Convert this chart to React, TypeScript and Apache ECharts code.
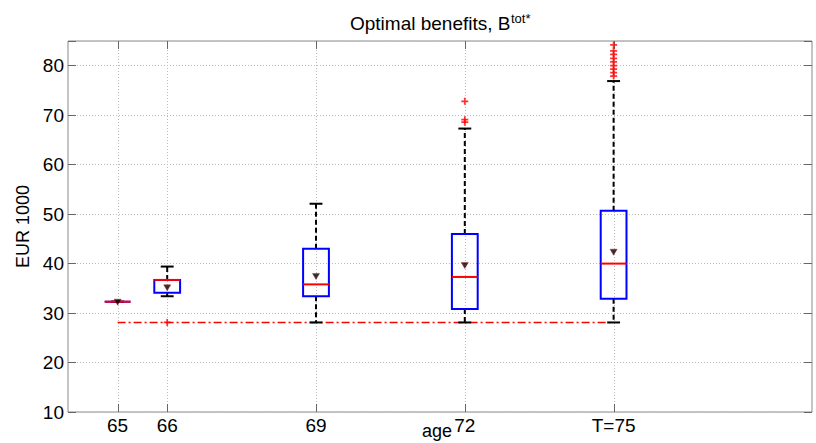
import React, { useEffect, useRef } from "react";
import * as echarts from "echarts";

// ---- data ----
const ages = [65, 66, 69, 72, 75];
const tickLabels = ["65", "66", "69", "72", "T=75"];
const whiskerLow = [32.3, 33.4, 28.1, 28.1, 28.1];
const q1 = [32.3, 34.1, 33.4, 30.8, 32.9];
const medians = [32.3, 36.7, 35.8, 37.3, 40.0];
const q3 = [32.3, 36.7, 43.0, 46.0, 50.7];
const whiskerHigh = [32.3, 39.4, 52.1, 67.3, 76.9];
const means = [32.2, 35.1, 37.4, 39.6, 42.3];
const outlierAges = [66, 72, 72, 72, 75, 75, 75, 75, 75, 75, 75, 75, 75];
const outlierValues = [28.1, 68.6, 69.1, 72.8, 77.9, 78.6, 79.3, 80.0, 80.8, 81.5, 82.3, 83.0, 84.2];
const floorLevel = 28.1;
const floorSpan = [65, 75];

const FONT = '"Liberation Sans", Arial, sans-serif';

export default function App() {
  const ref = useRef<HTMLDivElement>(null);
  useEffect(() => {
    if (!ref.current) return;
    const chart = echarts.init(ref.current, null, { renderer: "svg" });
    const boxData = ages.map((a, i) => [a, whiskerLow[i], q1[i], medians[i], q3[i], whiskerHigh[i]]);
    const option: any = {
      animation: false,
      backgroundColor: "#fff",
      textStyle: { fontFamily: FONT },
      grid: {
        left: 68,
        right: 4,
        top: 41,
        bottom: 31,
        containLabel: false,
        outerBoundsMode: "none",
        show: true,
        borderColor: "#888",
        borderWidth: 1,
        backgroundColor: "transparent",
      },
      graphic: [
        {
          type: "text",
          x: 510.5,
          y: 23.5,
          style: {
            text: "Optimal benefits, B",
            font: `19px ${FONT}`,
            fill: "#000",
            textAlign: "right",
            textVerticalAlign: "middle",
          },
        },
        {
          type: "text",
          x: 511,
          y: 18.5,
          style: {
            text: "tot*",
            font: `13px ${FONT}`,
            fill: "#000",
            textAlign: "left",
            textVerticalAlign: "middle",
          },
        },
        {
          type: "text",
          x: 437,
          y: 431,
          style: {
            text: "age",
            font: `18px ${FONT}`,
            fill: "#000",
            textAlign: "center",
            textVerticalAlign: "middle",
          },
        },
      ],
      xAxis: {
        type: "value",
        min: 64,
        max: 79,
        interval: 1,
        axisLine: { show: false },
        axisTick: { show: false },
        splitLine: { show: false },
        axisLabel: {
          fontSize: 19,
          color: "#000",
          fontFamily: FONT,
          margin: 4,
          formatter: (v: number) => {
            const i = ages.indexOf(Math.round(v));
            return i >= 0 ? tickLabels[i] : "";
          },
        },
      },
      yAxis: [
        {
          type: "value",
          min: 10,
          max: 85,
          interval: 10,
          name: "EUR 1000",
          nameLocation: "middle",
          nameGap: 28,
          nameTextStyle: { fontSize: 18, color: "#000", fontFamily: FONT },
          axisLine: { show: false },
          axisTick: { show: true, inside: true, length: 8, lineStyle: { color: "#666" } },
          splitLine: { show: true, lineStyle: { color: "#bbb", type: [1, 2], width: 1 } },
          axisLabel: {
            fontSize: 19,
            color: "#000",
            fontFamily: FONT,
            margin: 4,
            formatter: (v: number) => (v % 10 === 0 ? String(v) : ""),
          },
        },
        {
          type: "value",
          position: "right",
          min: 10,
          max: 85,
          interval: 10,
          axisLine: { show: false },
          axisTick: { show: true, inside: true, length: 8, lineStyle: { color: "#666" } },
          splitLine: { show: false },
          axisLabel: { show: false },
        },
      ],
      series: [
        {
          type: "custom",
          name: "xgrid",
          z: 1,
          silent: true,
          data: ages.map((a) => [a]),
          renderItem: (params: any, api: any) => {
            const x = Math.round(api.coord([api.value(0), 10])[0]) + 0.5;
            const cs = params.coordSys;
            const top = cs.y;
            const bottom = cs.y + cs.height;
            return {
              type: "group",
              children: [
                { type: "line", shape: { x1: x, y1: top, x2: x, y2: bottom }, style: { stroke: "#bbb", lineWidth: 1, lineDash: [1, 2] } },
                { type: "line", shape: { x1: x, y1: bottom, x2: x, y2: bottom - 8 }, style: { stroke: "#666", lineWidth: 1 } },
                { type: "line", shape: { x1: x, y1: top, x2: x, y2: top + 8 }, style: { stroke: "#666", lineWidth: 1 } },
              ],
            };
          },
        },
        {
          type: "line",
          name: "floor",
          z: 2,
          symbol: "none",
          data: floorSpan.map((a) => [a, floorLevel]),
          lineStyle: { color: "#ff0000", width: 1.5, type: [8, 3, 2, 3] },
        },
        {
          type: "custom",
          name: "boxes",
          z: 3,
          data: boxData,
          renderItem: (params: any, api: any) => {
            const a = api.value(0);
            const x = api.coord([a, 10])[0];
            const yLow = api.coord([a, api.value(1)])[1];
            const yQ1 = api.coord([a, api.value(2)])[1];
            const yMed = api.coord([a, api.value(3)])[1];
            const yQ3 = api.coord([a, api.value(4)])[1];
            const yHigh = api.coord([a, api.value(5)])[1];
            const unit = api.size([1, 0])[0];
            const bh = unit * 0.26;
            const ch = unit * 0.13;
            const dash = { stroke: "#000", lineWidth: 2, lineDash: [5, 3] };
            const solid = { stroke: "#000", lineWidth: 2 };
            return {
              type: "group",
              children: [
                { type: "line", shape: { x1: x, y1: yQ3, x2: x, y2: yHigh }, style: dash },
                { type: "line", shape: { x1: x, y1: yQ1, x2: x, y2: yLow }, style: dash },
                { type: "line", shape: { x1: x - ch, y1: yHigh, x2: x + ch, y2: yHigh }, style: solid },
                { type: "line", shape: { x1: x - ch, y1: yLow, x2: x + ch, y2: yLow }, style: solid },
                {
                  type: "rect",
                  shape: { x: x - bh, y: yQ3, width: 2 * bh, height: yQ1 - yQ3 },
                  style: { fill: "none", stroke: "#0000ff", lineWidth: 2 },
                },
                { type: "line", shape: { x1: x - bh, y1: yMed, x2: x + bh, y2: yMed }, style: { stroke: "#ff0000", lineWidth: 2 } },
              ],
            };
          },
        },
        {
          type: "scatter",
          name: "outliers",
          z: 4,
          symbol: "path://M3,0H5V3H8V5H5V8H3V5H0V3H3Z",
          symbolSize: 7,
          itemStyle: { color: "#ff0000" },
          data: outlierAges.map((a, i) => [a, outlierValues[i]]),
        },
        {
          type: "scatter",
          name: "mean",
          z: 5,
          symbol: "triangle",
          symbolRotate: 180,
          symbolSize: [7, 6],
          itemStyle: { color: "#000", borderColor: "#b00", borderWidth: 0.5 },
          data: ages.map((a, i) => [a, means[i]]),
        },
      ],
    };
    chart.setOption(option);
    return () => chart.dispose();
  }, []);
  return (
    <div
      ref={ref}
      style={{ position: "absolute", left: 0, top: 0, width: 816, height: 443, background: "#fff" }}
    />
  );
}
